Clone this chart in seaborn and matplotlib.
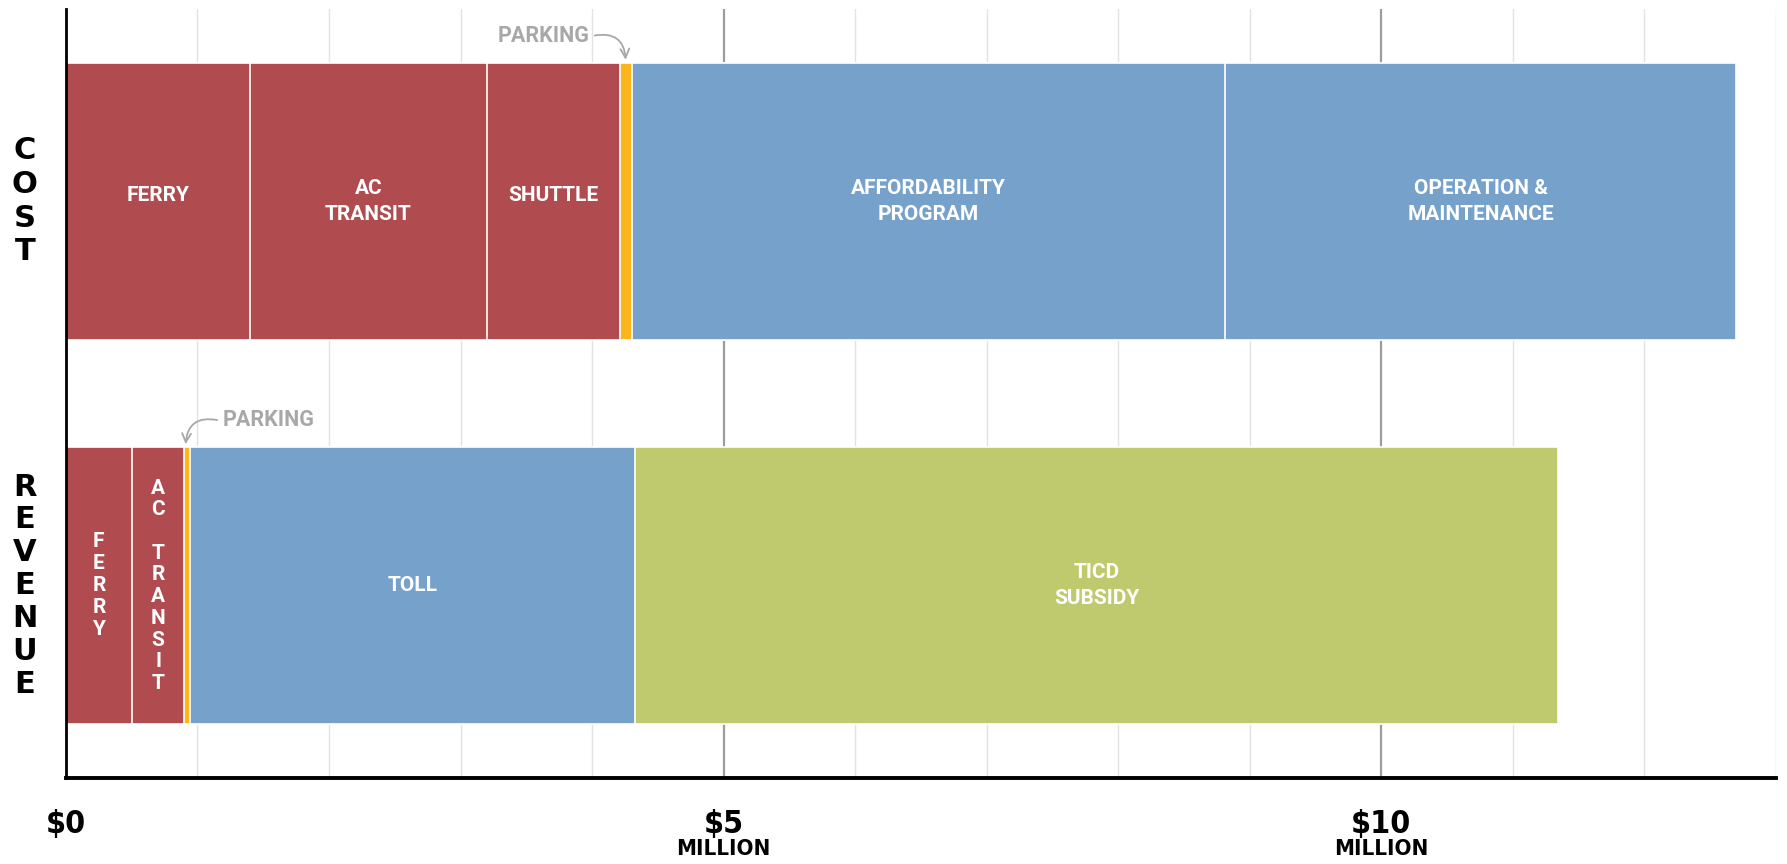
import matplotlib
matplotlib.use('Agg')
import matplotlib.pyplot as plt
import seaborn as sns

# Values in $ millions
rows = ['COST', 'REVENUE']

cost_labels = ['FERRY', 'AC\nTRANSIT', 'SHUTTLE', 'PARKING', 'AFFORDABILITY\nPROGRAM', 'OPERATION &\nMAINTENANCE']
cost_values = [1.40, 1.80, 1.01, 0.09, 4.51, 3.89]
cost_kinds = ['transit', 'transit', 'transit', 'parking', 'program', 'program']

revenue_labels = ['F\nE\nR\nR\nY', 'A\nC\n\nT\nR\nA\nN\nS\nI\nT', 'PARKING', 'TOLL', 'TICD\nSUBSIDY']
revenue_values = [0.50, 0.40, 0.04, 3.39, 7.01]
revenue_kinds = ['transit', 'transit', 'parking', 'program', 'subsidy']

x_ticks = [0, 5, 10]
x_ticklabels = ['$0', '$5', '$10']

palette = {'transit': '#B04C50', 'parking': '#FDB51C', 'program': '#76A1CB', 'subsidy': '#BFC96E'}

sns.set_style('white')
label_font = ['Roboto', 'DejaVu Sans']

fig, ax = plt.subplots(figsize=(17.87, 8.64), dpi=100)
fig.subplots_adjust(left=0.0369, right=0.9938, top=0.9896, bottom=0.0995)

# grid behind bars
for v in range(1, 14):
    major = v % 5 == 0
    ax.axvline(v, color='#9c9c9c' if major else '#e2e2e2', lw=1.6 if major else 1.0, zorder=0)

# stacked bars: draw cumulative totals, biggest first
for row, labels, values, kinds in [('COST', cost_labels, cost_values, cost_kinds),
                                   ('REVENUE', revenue_labels, revenue_values, revenue_kinds)]:
    cums = []
    total = 0
    for v in values:
        total += v
        cums.append(total)
    for k in reversed(range(len(values))):
        sns.barplot(x=[cums[k]], y=[row], order=rows, orient='h', color=palette[kinds[k]],
                    saturation=1, width=0.72, edgecolor='white', linewidth=1.2, ax=ax, zorder=2)
    yi = rows.index(row)
    for k, lab in enumerate(labels):
        if lab == 'PARKING':
            continue
        mid = cums[k] - values[k] / 2
        n_lines = lab.count('\n') + 1
        if n_lines == 1:
            dy = -0.014 if row == 'COST' else 0
            ax.text(mid, yi + dy, lab, ha='center', va='center', color='white', fontsize=15,
                    fontweight='bold', family=label_font, zorder=5)
        elif n_lines == 2:
            ax.text(mid, yi, lab, ha='center', va='center', color='white', fontsize=15,
                    fontweight='bold', family=label_font, linespacing=1.45, zorder=5)
        else:
            # letters stacked vertically
            ax.text(mid, yi, lab, ha='center', va='center', color='white', fontsize=15,
                    fontweight='bold', family=label_font,
                    linespacing=1.18 if n_lines > 5 else 1.2, zorder=5)

# PARKING call-outs
grey = '#A8A8A8'
ax.text(3.98, -0.431, 'PARKING', ha='right', va='center', color=grey, fontsize=15.5,
        fontweight='bold', family=label_font)
ax.annotate('', xy=(4.255, -0.368), xytext=(4.02, -0.431),
            arrowprops=dict(arrowstyle='->', color=grey, lw=1.3, shrinkA=0, shrinkB=0,
                            connectionstyle='arc3,rad=-0.55', mutation_scale=16))
ax.text(1.19, 0.569, 'PARKING', ha='left', va='center', color=grey, fontsize=15.5,
        fontweight='bold', family=label_font)
ax.annotate('', xy=(0.91, 0.632), xytext=(1.15, 0.569),
            arrowprops=dict(arrowstyle='->', color=grey, lw=1.3, shrinkA=0, shrinkB=0,
                            connectionstyle='arc3,rad=0.55', mutation_scale=16))

# axes styling
ax.set_xlim(0, 13)
ax.set_ylim(1.5, -0.5)
ax.set_xticks(x_ticks)
ax.set_xticklabels(x_ticklabels, fontsize=23, fontweight='bold', family=['DejaVu Sans'],
                   fontstretch='condensed', color='black')
ax.tick_params(axis='x', length=0, pad=22)
ax.set_yticks([])
ax.set_xlabel('')
ax.set_ylabel('')
sns.despine(ax=ax, top=True, right=True)
ax.spines['left'].set_color('black')
ax.spines['left'].set_linewidth(2)
ax.spines['bottom'].set_color('black')
ax.spines['bottom'].set_linewidth(2.8)
ax.spines['left'].set_zorder(6)
ax.spines['bottom'].set_zorder(6)

for v in x_ticks[1:]:
    ax.text(v, -0.092, 'MILLION', transform=ax.get_xaxis_transform(), ha='center', va='center',
            fontsize=16, fontweight='bold', family=['DejaVu Sans'], fontstretch='condensed',
            color='black')

# stacked-letter row names
for i, name in enumerate(rows):
    ax.text(-0.024, i, '\n'.join(name), transform=ax.get_yaxis_transform(), ha='center',
            va='center', fontsize=22, fontweight='bold', family=['DejaVu Sans'], color='black',
            linespacing=1.2 if name == 'COST' else 1.17)

fig.savefig('out.png', dpi=100)
